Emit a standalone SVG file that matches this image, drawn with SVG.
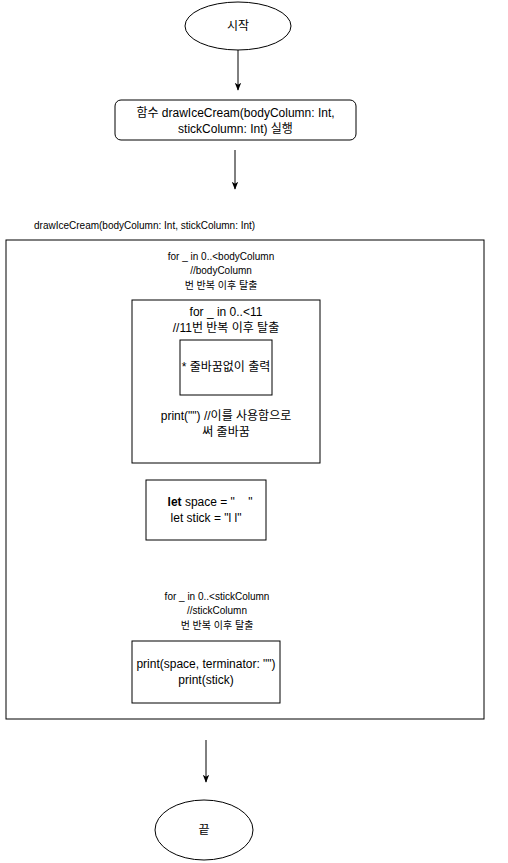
<svg xmlns="http://www.w3.org/2000/svg" width="508" height="863" viewBox="0 0 508 863">
<defs>
<marker id="arr" viewBox="0 0 10 10" refX="9" refY="5" markerWidth="8" markerHeight="8" markerUnits="userSpaceOnUse" orient="auto">
<path d="M0,1 L10,5 L0,9 L2.5,5 Z" fill="#000"/>
</marker>
</defs>
<style>
text{font-family:"Liberation Sans","Noto Sans CJK KR",sans-serif;fill:#000;text-anchor:middle}
.s12{font-size:12px}
.s10{font-size:10px}
.box{fill:#fff;stroke:#000;stroke-width:1}
.conn{stroke:#000;stroke-width:1;fill:none;marker-end:url(#arr)}
</style>
<rect width="508" height="863" fill="#fff"/>
<g id="connectors">
<line class="conn" x1="238" y1="50" x2="238" y2="90"/>
<line class="conn" x1="235" y1="150" x2="235" y2="189"/>
<line class="conn" x1="206" y1="740" x2="206" y2="782"/>
</g>
<g id="start">
<ellipse class="box" cx="238" cy="26" rx="53" ry="24"/>
<text class="s12" x="238" y="30">시작</text>
</g>
<g id="call">
<rect class="box" x="115" y="100" width="241" height="40" rx="6"/>
<text class="s12" x="235.5" y="117">함수 drawIceCream(bodyColumn: Int,</text>
<text class="s12" x="235.5" y="133">stickColumn: Int) 실행</text>
</g>
<g id="func">
<text class="s10" x="34" y="229" style="text-anchor:start">drawIceCream(bodyColumn: Int, stickColumn: Int)</text>
<rect class="box" x="6" y="240" width="478" height="479"/>
</g>
<g id="bodyLoopLabel">
<text class="s10" x="221" y="260">for _ in 0..&lt;bodyColumn</text>
<text class="s10" x="221" y="274">//bodyColumn</text>
<text class="s10" x="221" y="289">번 반복 이후 탈출</text>
</g>
<g id="innerLoop">
<rect class="box" x="132" y="300" width="188" height="163"/>
<text class="s12" x="226" y="316">for _ in 0..&lt;11</text>
<text class="s12" x="226" y="332">//11번 반복 이후 탈출</text>
<text class="s12" x="226" y="420">print("") //이를 사용함으로</text>
<text class="s12" x="226" y="436">써 줄바꿈</text>
</g>
<g id="printStar">
<rect class="box" x="180" y="340" width="92" height="55"/>
<text class="s12" x="226" y="371">* 줄바꿈없이 출력</text>
</g>
<g id="letBox">
<rect class="box" x="146" y="480" width="120" height="60"/>
<text class="s12" x="210" y="506" xml:space="preserve"><tspan font-weight="bold">let</tspan> space = "    "</text>
<text class="s12" x="206" y="522">let stick = "l l"</text>
</g>
<g id="stickLoopLabel">
<text class="s10" x="217" y="600">for _ in 0..&lt;stickColumn</text>
<text class="s10" x="217" y="614">//stickColumn</text>
<text class="s10" x="217" y="629">번 반복 이후 탈출</text>
</g>
<g id="printStick">
<rect class="box" x="132" y="641" width="148" height="62"/>
<text class="s12" x="206" y="668">print(space, terminator: "")</text>
<text class="s12" x="206" y="684">print(stick)</text>
</g>
<g id="end">
<ellipse class="box" cx="204" cy="830" rx="49" ry="30"/>
<text class="s12" x="204" y="834">끝</text>
</g>
</svg>
